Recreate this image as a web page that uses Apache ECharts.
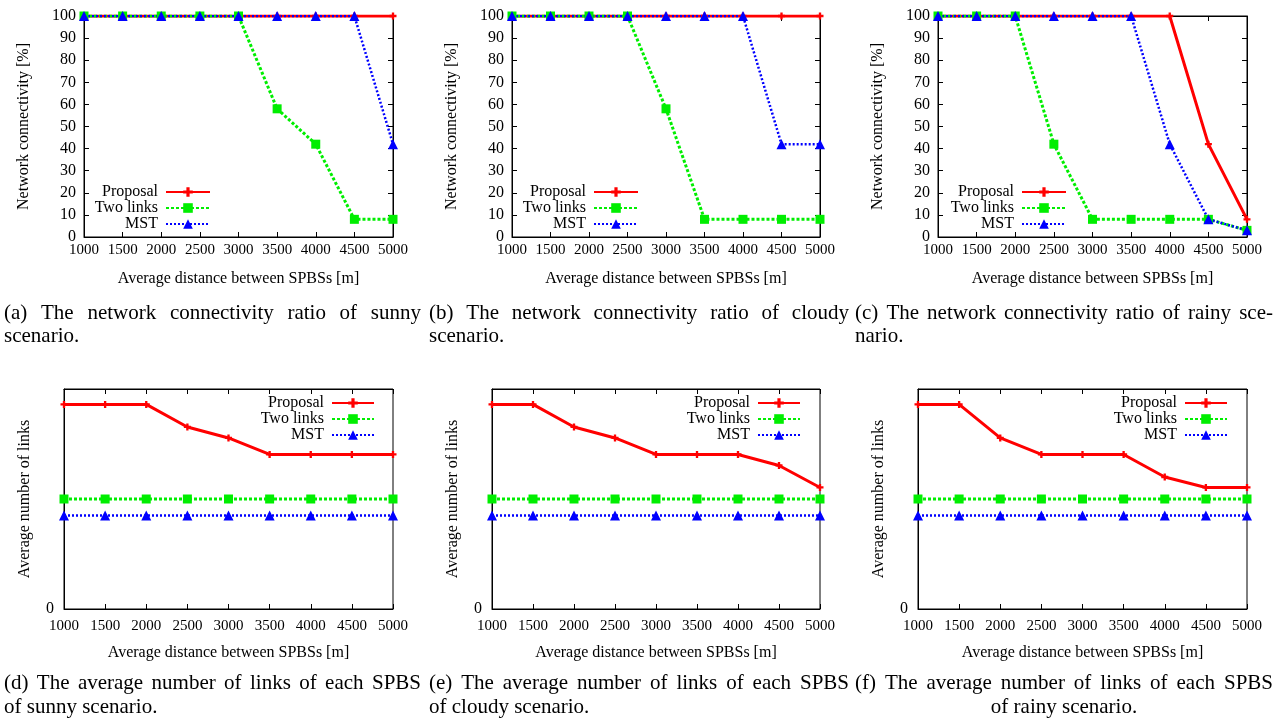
<!DOCTYPE html>
<html><head><meta charset="utf-8">
<script src="https://cdn.jsdelivr.net/npm/echarts@6/dist/echarts.min.js"></script>
<style>html,body{margin:0;padding:0;background:#fff}#c{width:1277px;height:719px}</style>
</head><body><div id="c"></div><script>
// ---------- data ----------
const distances = [1000, 1500, 2000, 2500, 3000, 3500, 4000, 4500, 5000];
const seriesNames = ['Proposal', 'Two links', 'MST'];

const connProposalSunny  = [100, 100, 100, 100, 100, 100, 100, 100, 100];
const connTwoLinksSunny  = [100, 100, 100, 100, 100, 58, 42, 8, 8];
const connMstSunny       = [100, 100, 100, 100, 100, 100, 100, 100, 42];

const connProposalCloudy = [100, 100, 100, 100, 100, 100, 100, 100, 100];
const connTwoLinksCloudy = [100, 100, 100, 100, 58, 8, 8, 8, 8];
const connMstCloudy      = [100, 100, 100, 100, 100, 100, 100, 42, 42];

const connProposalRainy  = [100, 100, 100, 100, 100, 100, 100, 42, 8];
const connTwoLinksRainy  = [100, 100, 100, 42, 8, 8, 8, 8, 3];
const connMstRainy       = [100, 100, 100, 100, 100, 100, 42, 8, 3];

const linksProposalSunny  = [3.72, 3.72, 3.72, 3.31, 3.11, 2.81, 2.81, 2.81, 2.81];
const linksProposalCloudy = [3.72, 3.72, 3.31, 3.11, 2.81, 2.81, 2.81, 2.61, 2.21];
const linksProposalRainy  = [3.72, 3.72, 3.11, 2.81, 2.81, 2.81, 2.40, 2.21, 2.21];
const linksTwoLinks       = [2.0, 2.0, 2.0, 2.0, 2.0, 2.0, 2.0, 2.0, 2.0];
const linksMst            = [1.7, 1.7, 1.7, 1.7, 1.7, 1.7, 1.7, 1.7, 1.7];

const xAxisTitle = 'Average distance between SPBSs [m]';
const yTitleConn = 'Network connectivity [%]';
const yTitleLinks = 'Average number of links';

const captions = [
  ['(a) The network connectivity ratio of sunny', 'scenario.'],
  ['(b) The network connectivity ratio of cloudy', 'scenario.'],
  ['(c) The network connectivity ratio of rainy sce-', 'nario.'],
  ['(d) The average number of links of each SPBS', 'of sunny scenario.'],
  ['(e) The average number of links of each SPBS', 'of cloudy scenario.'],
  ['(f) The average number of links of each SPBS', 'of rainy scenario.']
];

// ---------- layout ----------
const FONT = 'Liberation Serif';
const panels = [
  {grid:{left:84, top:16, width:309, height:221}, kind:'conn', vals:[connProposalSunny, connTwoLinksSunny, connMstSunny], legend:{left:78, top:184}},
  {grid:{left:512, top:16, width:308, height:221}, kind:'conn', vals:[connProposalCloudy, connTwoLinksCloudy, connMstCloudy], legend:{left:506, top:184}},
  {grid:{left:938, top:16, width:309, height:221}, kind:'conn', vals:[connProposalRainy, connTwoLinksRainy, connMstRainy], legend:{left:934, top:184}},
  {grid:{left:64, top:389, width:329, height:220}, kind:'links', vals:[linksProposalSunny, linksTwoLinks, linksMst], legend:{left:244, top:395}},
  {grid:{left:492, top:389, width:328, height:220}, kind:'links', vals:[linksProposalCloudy, linksTwoLinks, linksMst], legend:{left:670, top:395}},
  {grid:{left:918, top:389, width:329, height:220}, kind:'links', vals:[linksProposalRainy, linksTwoLinks, linksMst], legend:{left:1097, top:395}}
];

const seriesStyles = [
  {color:'#ff0000', lineStyle:{width:3, type:'solid'}, symbol:'path://M2,0h2v2h2v2h-2v2h-2v-2h-2v-2h2z', symbolSize:7},
  {color:'#00ee00', lineStyle:{width:3, type:[3, 2]}, symbol:'rect', symbolSize:9},
  {color:'#0000ff', lineStyle:{width:2.5, type:[2, 2]}, symbol:'triangle', symbolSize:10}
];

const grids = [], xAxes = [], yAxes = [], series = [], legends = [];
const black = {color:'#000', width:1};

panels.forEach((p, i) => {
  const top = p.kind === 'conn';
  grids.push(Object.assign({show:true, borderColor:'#000', borderWidth:1, backgroundColor:'transparent'}, p.grid));
  const xi = xAxes.length;
  xAxes.push({
    gridIndex:i, type:'value', min:1000, max:5000, interval:500, position:'bottom',
    axisLine:{show:true, onZero:false, lineStyle:black},
    axisTick:{show:true, inside:true, length:5, lineStyle:black},
    axisLabel:{show:true, margin: top ? 6 : 10, color:'#000', fontFamily:FONT, fontSize:15,
      formatter: v => String(v)},
    splitLine:{show:false},
    name:xAxisTitle, nameLocation:'middle', nameGap: top ? 34 : 36,
    nameTextStyle:{color:'#000', fontFamily:FONT, fontSize:16}
  });
  xAxes.push({
    gridIndex:i, type:'value', min:1000, max:5000, interval:500, position:'top',
    axisLine:{show:true, onZero:false, lineStyle:black},
    axisTick:{show:true, inside:true, length:5, lineStyle:black},
    axisLabel:{show:false}, splitLine:{show:false}
  });
  const yi = yAxes.length;
  if (top) {
    yAxes.push({
      gridIndex:i, type:'value', min:0, max:100, interval:10, position:'left',
      axisLine:{show:true, onZero:false, lineStyle:black},
      axisTick:{show:true, inside:true, length:5, lineStyle:black},
      axisLabel:{show:true, margin:8, color:'#000', fontFamily:FONT, fontSize:16},
      splitLine:{show:false},
      name:yTitleConn, nameLocation:'middle', nameGap:52, nameRotate:90,
      nameTextStyle:{color:'#000', fontFamily:FONT, fontSize:16}
    });
    yAxes.push({
      gridIndex:i, type:'value', min:0, max:100, interval:10, position:'right',
      axisLine:{show:true, onZero:false, lineStyle:black},
      axisTick:{show:true, inside:true, length:5, lineStyle:black},
      axisLabel:{show:false}, splitLine:{show:false}
    });
  } else {
    yAxes.push({
      gridIndex:i, type:'value', min:0, max:4, interval:4, position:'left',
      axisLine:{show:true, onZero:false, lineStyle:black},
      axisTick:{show:false},
      axisLabel:{show:true, margin:10, color:'#000', fontFamily:FONT, fontSize:16,
        formatter: v => (v === 0 ? '0' : '')},
      splitLine:{show:false},
      name:yTitleLinks, nameLocation:'middle', nameGap:31, nameRotate:90,
      nameTextStyle:{color:'#000', fontFamily:FONT, fontSize:16}
    });
  }
  p.vals.forEach((vals, s) => {
    const st = seriesStyles[s];
    series.push({
      type:'line', name:seriesNames[s], xAxisIndex:xi, yAxisIndex:yi,
      data: distances.map((d, k) => [d, vals[k]]),
      symbol:st.symbol, symbolSize:st.symbolSize, showSymbol:true,
      itemStyle:{color:st.color},
      lineStyle:Object.assign({color:st.color}, st.lineStyle),
      emphasis:{disabled:true}
    });
  });
  legends.push({
    orient:'vertical', align:'right', left:p.legend.left, top:p.legend.top,
    padding:0, itemGap:0, itemWidth: top ? 44 : 42, itemHeight:12,
    selectedMode:false, data:seriesNames,
    textStyle:{color:'#000', fontFamily:FONT, fontSize:16, width:80, align:'right', lineHeight:16, padding:[0,3,0,0]}
  });
});

// ---------- captions (justified like LaTeX) ----------
const measureCtx = document.createElement('canvas').getContext('2d');
measureCtx.font = '21px "' + FONT + '"';
function textEl(t, x, y, align) {
  return {type:'text', x:x, y:y, silent:true,
    style:{text:t, fontFamily:FONT, fontSize:21, fill:'#000', align:align || 'left', verticalAlign:'middle'}};
}
function justified(text, x0, x1, y) {
  const words = text.split(' ');
  const w = words.map(s => measureCtx.measureText(s).width);
  const total = w.reduce((a, b) => a + b, 0);
  const gap = (x1 - x0 - total) / (words.length - 1);
  const out = []; let x = x0;
  words.forEach((s, k) => { out.push(textEl(s, x, y)); x += w[k] + gap; });
  return out;
}
const cols = [[4, 421], [429, 849], [855, 1273]];
const graphics = [];
captions.forEach((c, i) => {
  const col = cols[i % 3];
  const y1 = i < 3 ? 313 : 683;
  const y2 = i < 3 ? 336 : 707;
  graphics.push(...justified(c[0], col[0], col[1], y1));
  if (i === 5) graphics.push(textEl(c[1], (col[0] + col[1]) / 2, y2, 'center'));
  else graphics.push(textEl(c[1], col[0], y2, 'left'));
});

const chart = echarts.init(document.getElementById('c'), null, {renderer:'canvas'});
chart.setOption({
  animation:false, backgroundColor:'#fff',
  grid:grids, xAxis:xAxes, yAxis:yAxes, series:series, legend:legends,
  graphic:{elements:graphics}
});
</script></body></html>
